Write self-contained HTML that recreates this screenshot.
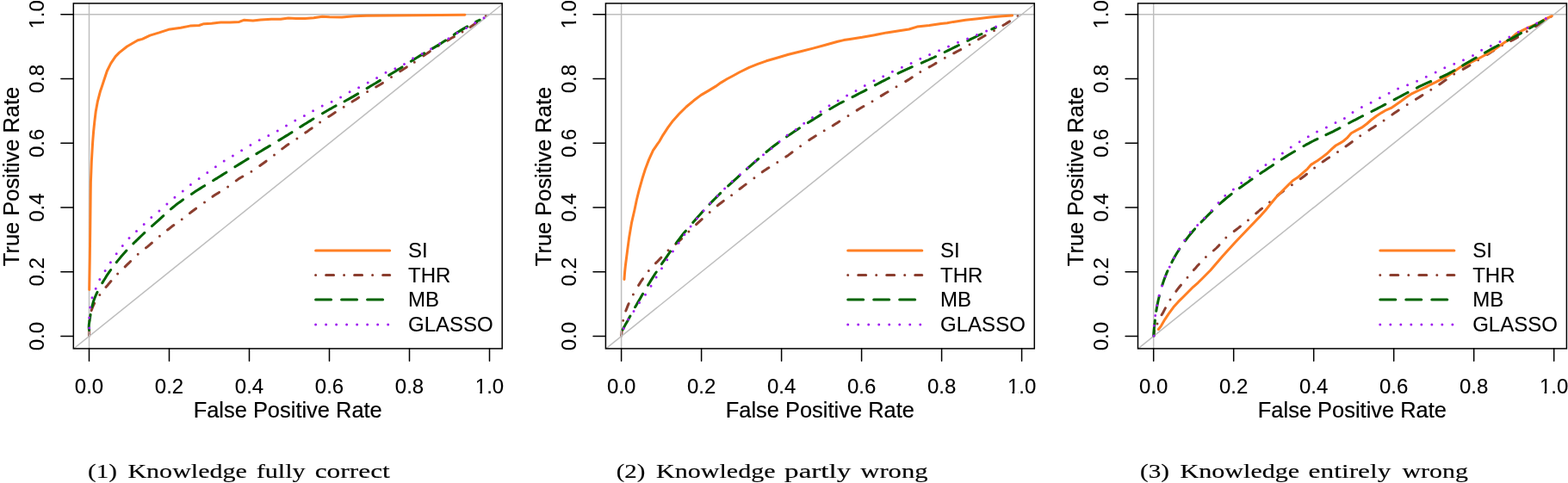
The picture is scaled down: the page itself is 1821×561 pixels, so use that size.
<!DOCTYPE html>
<html lang="en">
<head>
<meta charset="utf-8">
<title>ROC curves</title>
<style>
html,body{margin:0;padding:0;background:#fff;}
body{width:1821px;height:561px;overflow:hidden;position:relative;}
svg{position:absolute;left:0;top:0;display:block;}
svg text{font-family:"Liberation Sans",sans-serif;fill:#000;stroke:#000;stroke-width:.1px;stroke-linejoin:round;}
svg text.ttl{stroke-width:.2px;}
svg text.cap{font-family:"Liberation Serif",serif;stroke-width:.15px;}
</style>
</head>
<body>
<svg width="1821" height="561" viewBox="0 0 1821 561">
<defs><clipPath id="c1h"><path clip-rule="evenodd" d="M-40,-30H40V12H-40Z M-16,-2.1H-11.15V1H-16Z M-8.5,-2.1H-4V1H-8.5Z"/></clipPath><clipPath id="c1v"><path clip-rule="evenodd" d="M-40,-30H40V12H-40Z M-15.4,-2.4H-10.45V1H-15.4Z M-8.05,-2.4H-4V1H-8.05Z"/></clipPath><clipPath id="clip1"><rect x="85.3" y="3.9" width="497.9" height="401"/></clipPath><clipPath id="clip2"><rect x="703.4" y="3.9" width="497.9" height="401"/></clipPath><clipPath id="clip3"><rect x="1321.5" y="3.9" width="497.9" height="401"/></clipPath></defs>
<rect x="0" y="0" width="1821" height="561" fill="#fff"/>
<g class="panel" id="panel1">
<g clip-path="url(#clip1)">
<path d="M103.5,390.2 103.6,382.5M103.8,372.5h.01M106.2,360.6 107.2,357.8 108.3,355 109.6,352.3M115.8,342.4h.01M123,333.4 125,331.2 126.9,328.9 128.9,326.6M136.6,318.1h.01M145.2,309.8 147.4,307.7 149.5,305.7 151.6,303.5M160.2,295.2h.01M169.5,287.9 171.8,286.1 174.1,284.2 176.4,282.2M185.4,274.3h.01M194.6,267 197,265.2 199.3,263.3 201.8,261.6M211.2,254.7h.01M220.4,247.6 222.8,245.8 225.2,244 227.6,242.2M237.5,235h.01M247,228.3 249.5,226.6 252,225 254.5,223.4M264.6,217.1h.01M274.3,209.9 276.7,208.1 279.2,206.5 281.8,205M291.9,199.3h.01M301.8,192.5 304.2,190.8 306.7,189 309.1,187.2M318.5,180h.01M327.7,172.9 330.1,171.1 332.5,169.3 335,167.6M344.9,161h.01M354.8,154.1 357.3,152.4 359.7,150.6 362.2,148.9M371.6,142.1h.01M381.7,135.5 384.2,133.9 386.8,132.2 389.3,130.6M399.2,124.3h.01M409.1,118.1 411.6,116.5 414.1,114.9 416.6,113.2M426.6,106.4h.01M436.7,101 439.3,99.5 441.9,98 444.4,96.4M454.5,89.6h.01M464.7,82.8 467.2,81.2 469.8,79.5 472.3,77.9M481.3,72.2h.01M491.9,64.8 494.4,63 496.8,61.4 499.3,59.7M509.2,53.3h.01M519.6,47.1 522.2,45.6 524.7,44 527.4,42.6M537,37.1h.01M546.1,31.5 548.6,29.8 551.1,28.1 553.5,26.4M564.2,18.3h.01" fill="none" stroke="#8B3E2F" stroke-width="3.0" stroke-linecap="round" stroke-linejoin="round"/>
<g transform="translate(0,0)" stroke="#BEBEBE" stroke-width="1.5" fill="none">
<line x1="85.3" y1="16.8" x2="583.2" y2="16.8"/>
<line x1="103.5" y1="3.9" x2="103.5" y2="404.9"/>
<line x1="85.3" y1="405.2" x2="583.2" y2="5"/>
</g>
<path d="M103.7,336.6 104,318 104.3,300 104.8,262 105.2,225 105.4,211 105.9,199 106.3,188 107,176 107.7,164.5 108.6,153 109.8,141.3 111.2,129.8 113.3,118.2 116.3,106.6 118.2,101 120.5,94 124.3,82.5 128.7,73.6 134.1,65.6 138.5,61.1 147.5,54 160,46.8 165.3,45.4 174.2,41.1 184.9,37.9 195.7,34.3 209.9,32.2 220.6,30.1 231.3,29.5 236.7,27.7 245.6,27.2 256.3,26 267,26 277.8,25.4 283.1,23.3 293.8,24 302.7,22.9 315.2,22.2 325.9,22.2 334.9,21 343.8,21.5 354.3,21.4 364.3,20.8 374.3,19.3 382.8,19.8 397.1,20 411.4,18.8 425.7,18.3 454.2,18 482.8,17.7 511.3,17.6 539.9,17.3" fill="none" stroke="#FF7F24" stroke-width="3.0" stroke-linecap="round" stroke-linejoin="round"/>
<path d="M103.5,383.4 103.2,380.4 103.3,377.4 103.7,374.4 104.2,371.4 104.6,368.5 105.1,365.5M106.9,356.2 107.6,353.3 108.4,350.4 109.4,347.6 110.5,344.8 111.7,342 113,339.3M118.8,328.6 120.4,326 122,323.5 123.5,320.9 125.2,318.4 126.9,315.9 128.6,313.5M135.2,304.7 137.1,302.4 139,300.1 140.9,297.8 142.9,295.5 144.9,293.3 146.9,291.1M154.9,282.9 157,280.8 159.2,278.7 161.3,276.6 163.5,274.5 165.6,272.5 167.8,270.4M176.4,262.6 178.7,260.6 180.9,258.6 183.2,256.6 185.4,254.6 187.6,252.6 189.8,250.6M198.4,242.9 200.7,241 203,239.1 205.3,237.2 207.7,235.4 210.2,233.7 212.6,231.9M222.4,225.4 224.9,223.8 227.4,222.1 229.9,220.5 232.5,218.9 235,217.3 237.6,215.7M247.6,209.7 250.1,208.1 252.7,206.6 255.2,205 257.8,203.4 260.3,201.8 262.9,200.2M272.9,193.8 275.4,192.2 278,190.6 280.5,189.1 283.1,187.5 285.6,185.9 288.2,184.4M297.9,178.6 300.5,177 303.1,175.5 305.6,173.9 308.2,172.4 310.8,170.9 313.4,169.3M323.7,163.1 326.2,161.6 328.8,160 331.4,158.4 333.9,156.9 336.4,155.3 339,153.7M348.7,147.5 351.3,145.9 353.8,144.3 356.4,142.7 358.9,141.1 361.5,139.6 364,138M374.5,131.8 377.1,130.2 379.6,128.7 382.2,127.2 384.9,125.8 387.5,124.3 390.1,122.9M400.1,117.7 402.7,116.3 405.3,114.9 407.9,113.4 410.6,111.9 413.1,110.4 415.7,108.9M426.1,102.6 428.7,101.1 431.2,99.5 433.8,98 436.4,96.5 439,94.9 441.5,93.4M451.7,87.4 454.3,85.8 456.8,84.3 459.4,82.7 461.9,81.1 464.5,79.5 467,77.9M477.3,71.2 479.9,69.6 482.4,68 484.9,66.5 487.5,64.9 490.1,63.4 492.7,61.9M502.2,56.4 504.8,54.9 507.3,53.4 509.9,51.8 512.4,50.2 514.9,48.6 517.4,46.9M527.3,40.3 529.8,38.6 532.3,37 534.9,35.4 537.4,33.9 540,32.4 542.7,30.9M552.6,25.4 557.2,23.2" fill="none" stroke="#006400" stroke-width="3.0" stroke-linecap="round" stroke-linejoin="round"/>
<path d="M103.7,380.9h.01M103.7,368.9h.01M104.7,357.1h.01M107,345.8h.01M111.2,335.3h.01M115.8,324.5h.01M122.1,314.6h.01M128.4,304.7h.01M135.2,294.8h.01M142.3,285.4h.01M150,276.4h.01M158.5,268.5h.01M167.2,260.4h.01M175.8,252.6h.01M184.9,245h.01M193.9,237.1h.01M202.9,229.3h.01M212.3,221.9h.01M221.4,214.5h.01M231.1,207.4h.01M240.8,200.4h.01M250.4,193.7h.01M260.2,187.1h.01M270.4,181h.01M280.6,174.8h.01M290.9,168.6h.01M301.2,162.8h.01M311.8,157.4h.01M322.3,151.9h.01M332.5,146.1h.01M342.8,140h.01M353.4,134.5h.01M363.6,128.8h.01M374.2,123.1h.01M385.1,118.3h.01M395.6,113.1h.01M406.1,106.7h.01M416.6,101.7h.01M427.2,96h.01M437.6,90.4h.01M448,84.3h.01M458.9,79.7h.01M469.5,74.4h.01M479.6,67.8h.01M490.2,62.5h.01M500.6,56.8h.01M510.6,50.7h.01M520.9,44.7h.01M531,38.3h.01M541.6,32.6h.01M551.7,26.4h.01M562,20.7h.01" fill="none" stroke="#A020F0" stroke-width="3.0" stroke-linecap="round" stroke-linejoin="round"/>
</g>
<g transform="translate(0,0)">
<rect x="85.3" y="3.9" width="497.9" height="401" fill="none" stroke="#000" stroke-width="1.5"/>
<g stroke="#000" stroke-width="1.5" stroke-linecap="round">
<line x1="103.5" y1="404.9" x2="103.5" y2="419.3"/>
<line x1="196.5" y1="404.9" x2="196.5" y2="419.3"/>
<line x1="289.5" y1="404.9" x2="289.5" y2="419.3"/>
<line x1="382.5" y1="404.9" x2="382.5" y2="419.3"/>
<line x1="475.5" y1="404.9" x2="475.5" y2="419.3"/>
<line x1="568.5" y1="404.9" x2="568.5" y2="419.3"/>
<line x1="85.3" y1="390.6" x2="70.9" y2="390.6"/>
<line x1="85.3" y1="315.8" x2="70.9" y2="315.8"/>
<line x1="85.3" y1="241.1" x2="70.9" y2="241.1"/>
<line x1="85.3" y1="166.3" x2="70.9" y2="166.3"/>
<line x1="85.3" y1="91.6" x2="70.9" y2="91.6"/>
<line x1="85.3" y1="16.8" x2="70.9" y2="16.8"/>
</g>
<g font-size="24" text-anchor="middle">
<text transform="translate(103.5,456.5)">0.0</text>
<text transform="translate(196.5,456.5)">0.2</text>
<text transform="translate(289.5,456.5)">0.4</text>
<text transform="translate(382.5,456.5)">0.6</text>
<text transform="translate(475.5,456.5)">0.8</text>
<text transform="translate(568.5,456.5)" clip-path="url(#c1h)">1.0</text>
<text transform="translate(50.8,390.6) rotate(-90)">0.0</text>
<text transform="translate(50.8,315.8) rotate(-90)">0.2</text>
<text transform="translate(50.8,241.1) rotate(-90)">0.4</text>
<text transform="translate(50.8,166.3) rotate(-90)">0.6</text>
<text transform="translate(50.8,91.6) rotate(-90)">0.8</text>
<text transform="translate(50.8,16.8) rotate(-90)" clip-path="url(#c1v)">1.0</text>
</g>
<text x="334.2" y="485.4" font-size="25.45" class="ttl" text-anchor="middle">False Positive Rate</text>
<text transform="translate(21.9,205) rotate(-90)" font-size="25.45" class="ttl" text-anchor="middle">True Positive Rate</text>
<g stroke-width="3.0" stroke-linecap="round" fill="none">
<line x1="366.6" y1="291.1" x2="452.7" y2="291.1" stroke="#FF7F24"/>
<line x1="366.6" y1="319.6" x2="452.7" y2="319.6" stroke="#8B3E2F" stroke-dasharray="0.01 12 9 12"/>
<line x1="366.6" y1="348.1" x2="452.7" y2="348.1" stroke="#006400" stroke-dasharray="18 12"/>
<line x1="366.6" y1="377.1" x2="452.7" y2="377.1" stroke="#A020F0" stroke-dasharray="0.01 12"/>
</g>
<g font-size="24">
<text x="474" y="299.4">SI</text>
<text x="474" y="327.9">THR</text>
<text x="474" y="356.4">MB</text>
<text x="474" y="385.4">GLASSO</text>
</g>
</g>
</g>
<g class="panel" id="panel2">
<g clip-path="url(#clip2)">
<path d="M721.6,390.2 722.2,384.2M723.6,372.3h.01M726.8,361 727.9,358.2 729,355.4 730.1,352.7M735.4,342.1h.01M741.6,331.4 743.2,328.9 744.8,326.3 746.5,323.8M753.3,314.4h.01M761.5,305.7 763.7,303.6 765.7,301.4 767.8,299.2M776,290.8h.01M784.8,283.3 787.1,281.4 789.3,279.4 791.5,277.3M799.9,269h.01M808.6,260.7 810.8,258.6 813,256.6 815.2,254.6M824.2,246.6h.01M833.2,238.9 835.5,237 837.9,235.2 840.3,233.4M849.6,226.8h.01M859,219.5 861.4,217.7 863.8,215.9 866.2,214.1M875.9,206.8h.01M885.3,199.8 887.8,198 890.2,196.4 892.8,194.8M902.8,188.6h.01M912.8,182.1 915.3,180.4 917.7,178.6 920.1,176.8M929.6,169.7h.01M939.7,162.7 942.2,161 944.7,159.4 947.3,157.8M957.2,151.8h.01M967.2,145.9 969.7,144.3 972.3,142.7 974.8,141.1M985,134.4h.01M995.2,128.1 997.8,126.5 1000.3,125 1002.9,123.5M1013,117.7h.01M1023.3,111.4 1025.8,109.9 1028.4,108.3 1031,106.8M1041,100.8h.01M1051.7,94.6 1054.2,93.1 1056.8,91.5 1059.3,89.8M1068.8,83.4h.01M1079.1,77.9 1081.8,76.5 1084.4,75 1087,73.4M1097.3,67.2h.01M1107.7,61.8 1110.4,60.4 1113,59 1115.7,57.6M1126,51.8h.01M1136.3,45.8 1138.9,44.3 1141.5,42.8 1144.1,41.3M1154.5,35.4h.01M1164.9,29.5 1167.5,28 1170.1,26.4 1172.6,24.8M1182,18.3h.01" fill="none" stroke="#8B3E2F" stroke-width="3.0" stroke-linecap="round" stroke-linejoin="round"/>
<g transform="translate(618.1,0)" stroke="#BEBEBE" stroke-width="1.5" fill="none">
<line x1="85.3" y1="16.8" x2="583.2" y2="16.8"/>
<line x1="103.5" y1="3.9" x2="103.5" y2="404.9"/>
<line x1="85.3" y1="405.2" x2="583.2" y2="5"/>
</g>
<path d="M725,324.5 725.6,316 726.4,308.2 728.6,291.1 730.7,275.4 733.6,258.3 736.9,244 739.3,232.5 742.1,221.1 745.7,208.3 749.3,196.8 753.6,185.4 758.5,174.7 765.9,164 770,156.8 775.7,148.2 781.4,140.4 788.5,132.5 797.1,124 805.7,116.8 814.2,110.4 822.8,105.4 831,100.4 837.1,96.1 844.3,91.8 851.4,88 858.6,84 870,78.3 880,74.4 890,70.8 901.4,67.5 915.7,63.3 929.9,59.7 944.2,56.1 958.5,52.3 972.8,48.3 979.9,46.6 987.1,45.4 1001.3,43.3 1015.6,40.7 1029.9,37.9 1044.2,35.7 1055.6,34 1065,31.1 1079.2,29.5 1092.8,27.6 1099.9,26.8 1107.1,25.4 1121.3,23.3 1135.6,21.8 1149.9,20 1164.2,18.7 1175.6,17.9" fill="none" stroke="#FF7F24" stroke-width="3.0" stroke-linecap="round" stroke-linejoin="round"/>
<path d="M723.1,382.9 724.6,380.2 726,377.6 727.5,375 729,372.4 730.4,369.8 731.9,367.1M737.6,356.8 739.1,354.2 740.6,351.6 742.1,349 743.6,346.4 745.1,343.8 746.6,341.2M752.6,331.3 754.1,328.7 755.7,326.1 757.3,323.6 758.9,321.1 760.5,318.5 762.2,316M768.4,306.7 770.1,304.2 771.8,301.8 773.5,299.3 775.2,296.8 776.9,294.4 778.6,291.9M785.3,282.4 787.1,280 788.9,277.6 790.7,275.2 792.6,272.8 794.4,270.5 796.4,268.2M804.7,258.4 806.7,256.2 808.7,253.9 810.6,251.7 812.7,249.5 814.7,247.2 816.7,245M824,237.2 826.1,235 828.2,232.9 830.3,230.8 832.4,228.6 834.6,226.5 836.7,224.4M845.7,215.9 847.9,213.9 850.1,211.8 852.3,209.8 854.5,207.8 856.7,205.8 859,203.7M867.3,196.3 869.5,194.4 871.8,192.4 874,190.4 876.3,188.4 878.6,186.4 880.8,184.5M890,176.5 892.3,174.6 894.7,172.7 897,170.8 899.4,169 901.8,167.2 904.2,165.4M913.6,158.8 916,157.1 918.5,155.4 921,153.8 923.5,152.1 926,150.4 928.5,148.8M938.4,142.6 940.9,141 943.5,139.4 946,137.8 948.5,136.2 951.1,134.6 953.6,133M963.7,126.7 966.3,125.2 968.8,123.7 971.5,122.2 974.1,120.8 976.7,119.3 979.4,118M990,112.6 992.7,111.3 995.4,109.9 998,108.5 1000.7,107.2 1003.4,105.8 1006,104.4M1016.4,98.9 1019.1,97.5 1021.7,96.1 1024.4,94.7 1027.1,93.3 1029.7,92 1032.4,90.6M1043,85.2 1045.7,83.9 1048.4,82.6 1051.1,81.3 1053.8,80.1 1056.6,78.9 1059.3,77.7M1070.3,73.1 1073,71.9 1075.8,70.7 1078.5,69.5 1081.2,68.2 1083.9,67 1086.6,65.7M1097.2,60.5 1099.9,59.2 1102.6,57.8 1105.3,56.5 1108,55.2 1110.7,53.8 1113.4,52.5M1123.8,47.3 1126.5,45.9 1129.2,44.6 1131.9,43.3 1134.6,42 1137.3,40.7 1140,39.5M1151.8,33.9 1156.3,32" fill="none" stroke="#006400" stroke-width="3.0" stroke-linecap="round" stroke-linejoin="round"/>
<path d="M724.3,381.4h.01M729.6,371.1h.01M736,361.4h.01M742.5,351.6h.01M749.5,342.3h.01M756,332.3h.01M762.1,322.1h.01M768.5,311.8h.01M774.7,301.8h.01M781.4,292.1h.01M788.1,282.3h.01M794.9,272.6h.01M802.1,263h.01M809.5,253.7h.01M817.1,244.7h.01M824.9,236.1h.01M833.2,227.5h.01M841.6,219h.01M850.2,210.7h.01M859.4,202.8h.01M868.2,195.1h.01M877.1,187.3h.01M886.5,179.7h.01M895.9,172.6h.01M905.1,164.6h.01M914.2,157.1h.01M924.2,150.4h.01M933.7,143.3h.01M943.5,136.5h.01M953,129.7h.01M963,122.8h.01M973.2,117.1h.01M983.6,111.1h.01M994,105.4h.01M1004.3,99.4h.01M1015,93.7h.01M1025.7,88.7h.01M1036.4,83.3h.01M1047.4,78.2h.01M1058.1,73.5h.01M1068.8,68.2h.01M1079.6,63.6h.01M1090.6,58.7h.01M1101.5,54h.01M1112.5,49.3h.01M1123.6,45h.01M1134.5,40.4h.01M1145.6,36.1h.01M1156.6,31.1h.01" fill="none" stroke="#A020F0" stroke-width="3.0" stroke-linecap="round" stroke-linejoin="round"/>
</g>
<g transform="translate(618.1,0)">
<rect x="85.3" y="3.9" width="497.9" height="401" fill="none" stroke="#000" stroke-width="1.5"/>
<g stroke="#000" stroke-width="1.5" stroke-linecap="round">
<line x1="103.5" y1="404.9" x2="103.5" y2="419.3"/>
<line x1="196.5" y1="404.9" x2="196.5" y2="419.3"/>
<line x1="289.5" y1="404.9" x2="289.5" y2="419.3"/>
<line x1="382.5" y1="404.9" x2="382.5" y2="419.3"/>
<line x1="475.5" y1="404.9" x2="475.5" y2="419.3"/>
<line x1="568.5" y1="404.9" x2="568.5" y2="419.3"/>
<line x1="85.3" y1="390.6" x2="70.9" y2="390.6"/>
<line x1="85.3" y1="315.8" x2="70.9" y2="315.8"/>
<line x1="85.3" y1="241.1" x2="70.9" y2="241.1"/>
<line x1="85.3" y1="166.3" x2="70.9" y2="166.3"/>
<line x1="85.3" y1="91.6" x2="70.9" y2="91.6"/>
<line x1="85.3" y1="16.8" x2="70.9" y2="16.8"/>
</g>
<g font-size="24" text-anchor="middle">
<text transform="translate(103.5,456.5)">0.0</text>
<text transform="translate(196.5,456.5)">0.2</text>
<text transform="translate(289.5,456.5)">0.4</text>
<text transform="translate(382.5,456.5)">0.6</text>
<text transform="translate(475.5,456.5)">0.8</text>
<text transform="translate(568.5,456.5)" clip-path="url(#c1h)">1.0</text>
<text transform="translate(50.8,390.6) rotate(-90)">0.0</text>
<text transform="translate(50.8,315.8) rotate(-90)">0.2</text>
<text transform="translate(50.8,241.1) rotate(-90)">0.4</text>
<text transform="translate(50.8,166.3) rotate(-90)">0.6</text>
<text transform="translate(50.8,91.6) rotate(-90)">0.8</text>
<text transform="translate(50.8,16.8) rotate(-90)" clip-path="url(#c1v)">1.0</text>
</g>
<text x="334.2" y="485.4" font-size="25.45" class="ttl" text-anchor="middle">False Positive Rate</text>
<text transform="translate(21.9,205) rotate(-90)" font-size="25.45" class="ttl" text-anchor="middle">True Positive Rate</text>
<g stroke-width="3.0" stroke-linecap="round" fill="none">
<line x1="366.6" y1="291.1" x2="452.7" y2="291.1" stroke="#FF7F24"/>
<line x1="366.6" y1="319.6" x2="452.7" y2="319.6" stroke="#8B3E2F" stroke-dasharray="0.01 12 9 12"/>
<line x1="366.6" y1="348.1" x2="452.7" y2="348.1" stroke="#006400" stroke-dasharray="18 12"/>
<line x1="366.6" y1="377.1" x2="452.7" y2="377.1" stroke="#A020F0" stroke-dasharray="0.01 12"/>
</g>
<g font-size="24">
<text x="474" y="299.4">SI</text>
<text x="474" y="327.9">THR</text>
<text x="474" y="356.4">MB</text>
<text x="474" y="385.4">GLASSO</text>
</g>
</g>
</g>
<g class="panel" id="panel3">
<g clip-path="url(#clip3)">
<path d="M1340,390.2 1340.6,384M1344,376.1h.01M1349.1,365.8 1350.6,363.2 1352,360.6 1353.4,357.9M1359,348h.01M1365.8,338.3 1367.6,335.9 1369.5,333.5 1371.4,331.2M1379,322.2h.01M1386.4,313.6 1388.4,311.4 1390.4,309.1 1392.4,306.9M1400.4,298.5h.01M1409.4,291 1411.1,289.5 1412.8,288 1414.4,286.4 1415.9,284.7M1423.8,276.1h.01M1433.3,268.5 1435.7,266.7 1438.1,264.9 1440.4,263M1449.5,255.7h.01M1458.7,247.9 1461,246 1463.2,244 1465.6,242.1M1474.5,234.7h.01M1483.5,227.3 1485.8,225.4 1488.2,223.6 1490.6,221.8M1500.4,214.7h.01M1510.3,207.7 1512.7,206 1515.1,204.2 1517.5,202.3M1526.6,195.1h.01M1536.1,188 1538.6,186.3 1541,184.6 1543.6,182.9M1553.5,176.6h.01M1563,170 1565.5,168.3 1567.9,166.5 1570.3,164.7M1579.7,157.8h.01M1589.9,151.2 1592.4,149.6 1595,147.9 1597.5,146.3M1607.1,140h.01M1616.9,133.1 1619.4,131.3 1621.8,129.7 1624.3,128M1634.2,121.5h.01M1644.4,115.3 1646.9,113.7 1649.5,112.1 1652,110.5M1661.8,104.3h.01M1671.8,97.9 1674.3,96.2 1676.7,94.5 1679.2,92.8M1688.7,86.1h.01M1699.2,80.4 1701.8,78.9 1704.4,77.4 1706.9,75.9M1716.6,69.7h.01M1727.1,63.4 1729.6,61.9 1732.2,60.3 1734.7,58.7M1744.5,52.5h.01M1754.7,47.5 1757.4,46.1 1760,44.7 1762.6,43.1M1773.3,36.6h.01M1783.4,30.8 1786,29.3 1788.6,27.7 1791.1,26.1M1801,19.5h.01" fill="none" stroke="#8B3E2F" stroke-width="3.0" stroke-linecap="round" stroke-linejoin="round"/>
<g transform="translate(1236.2,0)" stroke="#BEBEBE" stroke-width="1.5" fill="none">
<line x1="85.3" y1="16.8" x2="583.2" y2="16.8"/>
<line x1="103.5" y1="3.9" x2="103.5" y2="404.9"/>
<line x1="85.3" y1="405.2" x2="583.2" y2="5"/>
</g>
<path d="M1345.4,382.5 1348.6,378.3 1352.8,371.1 1357.1,364.7 1362.8,356.8 1368.5,350.4 1374.3,344.7 1380,339 1385.7,333.3 1391.4,328.3 1395.8,324 1405.7,314 1419.9,297.5 1434.2,281.8 1448.5,266.8 1462.8,251.9 1469.9,244 1475.7,236.8 1482.8,228.2 1488.5,222.5 1495.7,215.4 1501.4,209.7 1507.1,206.1 1512.8,201.1 1518.5,196.1 1522.8,191.1 1529.9,186.8 1535.6,182.6 1541.3,178.3 1547.1,172.6 1551.3,169 1556.5,166.1 1560,164 1564.2,160.4 1569.2,154.7 1575.7,151.1 1581.4,148.2 1587.1,144 1592.8,139 1598.5,134.7 1604.2,131.1 1609.9,127.8 1615.6,125.4 1621.4,121.4 1627.1,117.5 1632.8,113.3 1638.5,109.4 1644.2,106.6 1649.9,104 1655.6,101.4 1661.3,98.3 1667,95.7 1674.2,91.9 1681.3,88.2 1687,84.2 1696.6,77.6 1703.8,74.7 1718.1,67.5 1732.3,59.7 1739.5,54.7 1746.6,49.7 1753.8,45.4 1760.9,39 1768,35.4 1775.2,31.8 1782.3,29 1789.4,25.4 1796.6,21.1 1802.3,18.7" fill="none" stroke="#FF7F24" stroke-width="3.0" stroke-linecap="round" stroke-linejoin="round"/>
<path d="M1339.9,389.9 1339.9,386.9 1340.1,383.9 1340.4,380.9 1340.7,377.9 1341.1,374.9 1341.4,372M1342.8,361.3 1343.3,358.3 1343.8,355.3 1344.4,352.4 1345,349.5 1345.7,346.5 1346.4,343.6M1349.7,331.5 1350.6,328.7 1351.6,325.8 1352.6,323 1353.7,320.2 1354.8,317.4 1356,314.7M1360.8,304.7 1362.2,302 1363.6,299.4 1365.1,296.8 1366.6,294.2 1368.2,291.7 1369.8,289.2M1376.3,279.9 1378.1,277.5 1379.9,275.2 1381.8,272.8 1383.7,270.5 1385.6,268.2 1387.6,265.9M1395.1,257.9 1397.2,255.8 1399.3,253.6 1401.4,251.5 1403.5,249.4 1405.6,247.3 1407.8,245.2M1416.4,236.9 1418.7,234.9 1420.9,233 1423.2,231 1425.5,229.1 1427.9,227.2 1430.2,225.4M1439.4,218.5 1441.9,216.8 1444.3,215 1446.8,213.3 1449.2,211.6 1451.6,209.8 1454.1,208.1M1463.7,201.5 1466.2,199.8 1468.7,198.2 1471.2,196.5 1473.7,194.8 1476.2,193.2 1478.7,191.5M1488.3,185.1 1490.8,183.5 1493.4,181.9 1495.9,180.3 1498.5,178.7 1501,177.2 1503.6,175.7M1514,169.7 1516.6,168.2 1519.3,166.8 1521.9,165.4 1524.6,164 1527.3,162.7 1530,161.4M1539.9,156.7 1542.6,155.4 1545.3,154.1 1548,152.8 1550.7,151.4 1553.3,150.1 1556,148.7M1566.6,143 1569.3,141.5 1571.9,140.1 1574.6,138.8 1577.3,137.4 1579.9,136 1582.6,134.7M1592.9,129.5 1595.6,128.1 1598.2,126.8 1600.9,125.4 1603.6,124 1606.2,122.6 1608.9,121.2M1619.1,115.8 1621.8,114.4 1624.4,113 1627.1,111.6 1629.8,110.2 1632.4,108.8 1635.1,107.4M1645.4,102.1 1648.1,100.7 1650.8,99.4 1653.5,98.1 1656.2,96.9 1659,95.6 1661.7,94.5M1672.9,89.9 1675.7,88.7 1678.4,87.4 1681.1,86.1 1683.8,84.7 1686.4,83.3 1689,81.8M1698.7,76.1 1701.2,74.5 1703.8,73 1706.4,71.5 1709,70 1711.6,68.5 1714.2,67M1724.4,61.2 1727.1,59.7 1729.7,58.2 1732.3,56.8 1734.9,55.4 1737.6,54 1740.2,52.6M1750.8,47 1753.5,45.6 1756.1,44.2 1758.8,42.8 1761.4,41.4 1764,39.9 1766.6,38.4M1776.6,32.7 1779.2,31.3 1781.8,29.8 1784.4,28.3 1787,26.8 1789.6,25.4 1792.3,23.9" fill="none" stroke="#006400" stroke-width="3.0" stroke-linecap="round" stroke-linejoin="round"/>
<path d="M1340,390h.01M1340.3,378.3h.01M1341.7,366.4h.01M1343.6,354.7h.01M1346.1,343.3h.01M1349.6,332.1h.01M1353.3,321.1h.01M1358.3,310h.01M1363.5,299.4h.01M1369.3,289.4h.01M1375.7,279h.01M1382.4,269.7h.01M1390.7,261.4h.01M1398.8,253.3h.01M1407,244.4h.01M1415,235.4h.01M1422.8,227.2h.01M1432.4,220h.01M1441.7,212.5h.01M1451.4,206.1h.01M1460.7,198.6h.01M1470,191.4h.01M1479.5,185.1h.01M1489.4,178h.01M1499.2,171.1h.01M1509.2,164.7h.01M1519.3,158.7h.01M1529.5,153h.01M1540.4,148h.01M1551,142.5h.01M1561.4,137.5h.01M1571,130.4h.01M1581.4,124.4h.01M1592.1,119.3h.01M1602.4,113.7h.01M1613.1,108.3h.01M1623.6,103h.01M1634.6,98.7h.01M1645.6,94.3h.01M1656.3,89.3h.01M1667.2,84h.01M1677.8,78.7h.01M1688.8,74.2h.01M1699.5,69.7h.01M1710.5,64.4h.01M1720.6,58.2h.01M1731.3,53.3h.01M1742,48.5h.01M1752.8,43h.01M1763.3,37.3h.01M1774,32.3h.01M1784.7,27.1h.01M1795.3,21.4h.01" fill="none" stroke="#A020F0" stroke-width="3.0" stroke-linecap="round" stroke-linejoin="round"/>
</g>
<g transform="translate(1236.2,0)">
<rect x="85.3" y="3.9" width="497.9" height="401" fill="none" stroke="#000" stroke-width="1.5"/>
<g stroke="#000" stroke-width="1.5" stroke-linecap="round">
<line x1="103.5" y1="404.9" x2="103.5" y2="419.3"/>
<line x1="196.5" y1="404.9" x2="196.5" y2="419.3"/>
<line x1="289.5" y1="404.9" x2="289.5" y2="419.3"/>
<line x1="382.5" y1="404.9" x2="382.5" y2="419.3"/>
<line x1="475.5" y1="404.9" x2="475.5" y2="419.3"/>
<line x1="568.5" y1="404.9" x2="568.5" y2="419.3"/>
<line x1="85.3" y1="390.6" x2="70.9" y2="390.6"/>
<line x1="85.3" y1="315.8" x2="70.9" y2="315.8"/>
<line x1="85.3" y1="241.1" x2="70.9" y2="241.1"/>
<line x1="85.3" y1="166.3" x2="70.9" y2="166.3"/>
<line x1="85.3" y1="91.6" x2="70.9" y2="91.6"/>
<line x1="85.3" y1="16.8" x2="70.9" y2="16.8"/>
</g>
<g font-size="24" text-anchor="middle">
<text transform="translate(103.5,456.5)">0.0</text>
<text transform="translate(196.5,456.5)">0.2</text>
<text transform="translate(289.5,456.5)">0.4</text>
<text transform="translate(382.5,456.5)">0.6</text>
<text transform="translate(475.5,456.5)">0.8</text>
<text transform="translate(568.5,456.5)" clip-path="url(#c1h)">1.0</text>
<text transform="translate(50.8,390.6) rotate(-90)">0.0</text>
<text transform="translate(50.8,315.8) rotate(-90)">0.2</text>
<text transform="translate(50.8,241.1) rotate(-90)">0.4</text>
<text transform="translate(50.8,166.3) rotate(-90)">0.6</text>
<text transform="translate(50.8,91.6) rotate(-90)">0.8</text>
<text transform="translate(50.8,16.8) rotate(-90)" clip-path="url(#c1v)">1.0</text>
</g>
<text x="334.2" y="485.4" font-size="25.45" class="ttl" text-anchor="middle">False Positive Rate</text>
<text transform="translate(21.9,205) rotate(-90)" font-size="25.45" class="ttl" text-anchor="middle">True Positive Rate</text>
<g stroke-width="3.0" stroke-linecap="round" fill="none">
<line x1="366.6" y1="291.1" x2="452.7" y2="291.1" stroke="#FF7F24"/>
<line x1="366.6" y1="319.6" x2="452.7" y2="319.6" stroke="#8B3E2F" stroke-dasharray="0.01 12 9 12"/>
<line x1="366.6" y1="348.1" x2="452.7" y2="348.1" stroke="#006400" stroke-dasharray="18 12"/>
<line x1="366.6" y1="377.1" x2="452.7" y2="377.1" stroke="#A020F0" stroke-dasharray="0.01 12"/>
</g>
<g font-size="24">
<text x="474" y="299.4">SI</text>
<text x="474" y="327.9">THR</text>
<text x="474" y="356.4">MB</text>
<text x="474" y="385.4">GLASSO</text>
</g>
</g>
</g>
<text class="cap" y="554.6" font-size="24.0"><tspan x="102" textLength="33.9" lengthAdjust="spacingAndGlyphs">(1)</tspan> <tspan x="148.4" textLength="138.5" lengthAdjust="spacingAndGlyphs">Knowledge</tspan> <tspan x="297.7" textLength="57" lengthAdjust="spacingAndGlyphs">fully</tspan> <tspan x="365.7" textLength="87.1" lengthAdjust="spacingAndGlyphs">correct</tspan></text>
<text class="cap" y="554.6" font-size="24.0"><tspan x="715.7" textLength="33.6" lengthAdjust="spacingAndGlyphs">(2)</tspan> <tspan x="762.1" textLength="138.5" lengthAdjust="spacingAndGlyphs">Knowledge</tspan> <tspan x="911.1" textLength="77.2" lengthAdjust="spacingAndGlyphs">partly</tspan> <tspan x="999.3" textLength="78.2" lengthAdjust="spacingAndGlyphs">wrong</tspan></text>
<text class="cap" y="554.6" font-size="24.0"><tspan x="1324.1" textLength="33.9" lengthAdjust="spacingAndGlyphs">(3)</tspan> <tspan x="1370.5" textLength="138.7" lengthAdjust="spacingAndGlyphs">Knowledge</tspan> <tspan x="1519.6" textLength="95.9" lengthAdjust="spacingAndGlyphs">entirely</tspan> <tspan x="1628.4" textLength="76.5" lengthAdjust="spacingAndGlyphs">wrong</tspan></text>
</svg>
</body>
</html>
